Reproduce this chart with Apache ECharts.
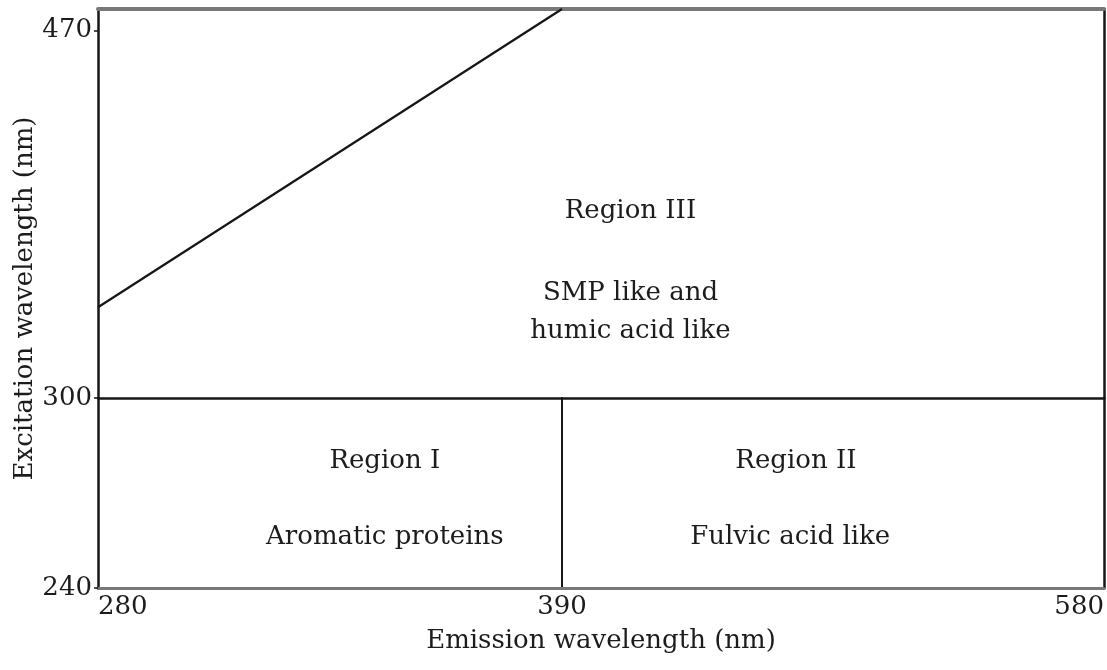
<!DOCTYPE html>
<html><head><meta charset="utf-8">
<script src="https://cdn.jsdelivr.net/npm/echarts@6/dist/echarts.min.js"></script>
<style>html,body{margin:0;padding:0;background:#fff}#c{width:1107px;height:670px}</style>
</head><body><div id="c"></div>
<script>
// Axis domains (nm): emission split at 390, excitation split at 300
const emBounds = [280, 390, 580];
const exBounds = [240, 300, 480];
const emTickLabels = [280, 390, 580];
const exTickLabels = [240, 300, 470];

// Diagonal boundary line (Em, Ex)
const diagEm = [280, 390];
const diagEx = [342, 480];

// Region annotations (anchor in data coordinates)
const regionITexts = ['Region I', 'Aromatic proteins'];
const regionIEm = [348, 348];
const regionIEx = [280, 256];
const regionIITexts = ['Region II', 'Fulvic acid like'];
const regionIIEm = [472, 470];
const regionIIEx = [280, 256];
const regionIIITexts = ['Region III', 'SMP like and', 'humic acid like'];
const regionIIIEm = [414, 414, 414];
const regionIIIEx = [386.5, 348.5, 331];

const FONT = 'DejaVu Serif';
const TXT = '#1c1c1c';
const BLACK = '#161616';
const GRAY = '#787878';

function pts(texts, em, ex) { return texts.map((t, i) => ({ name: t, value: [em[i], ex[i]] })); }

const hidden = { axisLabel: { show: false }, axisTick: { show: false }, splitLine: { show: false } };
const lbl = (vals, extra) => Object.assign({ show: true, customValues: vals, fontFamily: FONT, fontSize: 26, color: TXT, margin: 6 }, extra || {});
const g = (o) => Object.assign({ outerBoundsMode: 'none', containLabel: false }, o);
const textLabel = { show: true, position: 'inside', formatter: '{b}', fontFamily: FONT, fontSize: 26, color: TXT, opacity: 1 };

const chart = echarts.init(document.getElementById('c'), null, { renderer: 'canvas' });
chart.setOption({
  backgroundColor: '#ffffff',
  animation: false,
  grid: [
    g({ left: 98, top: 398, width: 464, height: 190 }),   // bottom-left
    g({ left: 562, top: 398, width: 542, height: 190 }),  // bottom-right
    g({ left: 98, top: 9, width: 464, height: 389 }),     // top-left
    g({ left: 562, top: 9, width: 542, height: 389 }),    // top-right
    g({ left: 98, top: 9, width: 1006, height: 579 })     // whole (titles)
  ],
  xAxis: [
    Object.assign({}, hidden, { type: 'value', gridIndex: 0, position: 'bottom', min: emBounds[0], max: emBounds[1],
      axisLine: { lineStyle: { color: GRAY, width: 3 } },
      axisLabel: lbl([emTickLabels[0], emTickLabels[1]], { alignMinLabel: 'left' }) }),
    Object.assign({}, hidden, { type: 'value', gridIndex: 1, position: 'bottom', min: emBounds[1], max: emBounds[2],
      axisLine: { lineStyle: { color: GRAY, width: 3 } },
      axisLabel: lbl([emTickLabels[2]], { align: 'right', alignMinLabel: 'right', alignMaxLabel: 'right' }) }),
    Object.assign({}, hidden, { type: 'value', gridIndex: 2, position: 'bottom', min: emBounds[0], max: emBounds[1],
      axisLine: { lineStyle: { color: BLACK, width: 2.5 } } }),
    Object.assign({}, hidden, { type: 'value', gridIndex: 3, position: 'bottom', min: emBounds[1], max: emBounds[2],
      axisLine: { lineStyle: { color: BLACK, width: 2.5 } } }),
    Object.assign({}, hidden, { type: 'value', gridIndex: 2, position: 'top', min: emBounds[0], max: emBounds[1],
      axisLine: { lineStyle: { color: GRAY, width: 4 } } }),
    Object.assign({}, hidden, { type: 'value', gridIndex: 3, position: 'top', min: emBounds[1], max: emBounds[2],
      axisLine: { lineStyle: { color: GRAY, width: 4 } } }),
    Object.assign({}, hidden, { type: 'value', gridIndex: 4, position: 'bottom', min: 0, max: 1,
      axisLine: { show: false },
      name: 'Emission wavelength (nm)', nameLocation: 'middle', nameGap: 40,
      nameTextStyle: { fontFamily: FONT, fontSize: 26, color: TXT } })
  ],
  yAxis: [
    Object.assign({}, hidden, { type: 'value', gridIndex: 0, position: 'left', min: exBounds[0], max: exBounds[1],
      axisLine: { lineStyle: { color: BLACK, width: 2.5 } },
      axisTick: { show: true, customValues: [exTickLabels[0], exTickLabels[1]], length: 4, lineStyle: { color: BLACK, width: 1.5 } },
      axisLabel: lbl([exTickLabels[0], exTickLabels[1]]) }),
    Object.assign({}, hidden, { type: 'value', gridIndex: 1, position: 'left', min: exBounds[0], max: exBounds[1],
      axisLine: { lineStyle: { color: BLACK, width: 2 } } }),
    Object.assign({}, hidden, { type: 'value', gridIndex: 1, position: 'right', min: exBounds[0], max: exBounds[1],
      axisLine: { lineStyle: { color: BLACK, width: 2.5 } } }),
    Object.assign({}, hidden, { type: 'value', gridIndex: 2, position: 'left', min: exBounds[1], max: exBounds[2],
      axisLine: { lineStyle: { color: BLACK, width: 2.5 } },
      axisTick: { show: true, customValues: [exTickLabels[2]], length: 4, lineStyle: { color: BLACK, width: 1.5 } },
      axisLabel: lbl([exTickLabels[2]]) }),
    Object.assign({}, hidden, { type: 'value', gridIndex: 3, position: 'right', min: exBounds[1], max: exBounds[2],
      axisLine: { lineStyle: { color: BLACK, width: 2.5 } } }),
    Object.assign({}, hidden, { type: 'value', gridIndex: 4, position: 'left', min: 0, max: 1,
      axisLine: { show: false },
      name: 'Excitation wavelength (nm)', nameLocation: 'middle', nameGap: 60, nameRotate: 90,
      nameTextStyle: { fontFamily: FONT, fontSize: 26, color: TXT } })
  ],
  series: [
    { type: 'line', xAxisIndex: 2, yAxisIndex: 3, symbol: 'none', silent: true,
      lineStyle: { color: BLACK, width: 2.2 }, z: 5,
      data: diagEm.map((e, i) => [e, diagEx[i]]) },
    { type: 'scatter', xAxisIndex: 0, yAxisIndex: 0, symbolSize: 1, silent: true,
      itemStyle: { color: 'transparent', opacity: 1 }, label: textLabel,
      data: pts(regionITexts, regionIEm, regionIEx) },
    { type: 'scatter', xAxisIndex: 1, yAxisIndex: 1, symbolSize: 1, silent: true,
      itemStyle: { color: 'transparent', opacity: 1 }, label: textLabel,
      data: pts(regionIITexts, regionIIEm, regionIIEx) },
    { type: 'scatter', xAxisIndex: 3, yAxisIndex: 4, symbolSize: 1, silent: true,
      itemStyle: { color: 'transparent', opacity: 1 }, label: textLabel,
      data: pts(regionIIITexts, regionIIIEm, regionIIIEx) }
  ]
});
</script>
</body></html>
